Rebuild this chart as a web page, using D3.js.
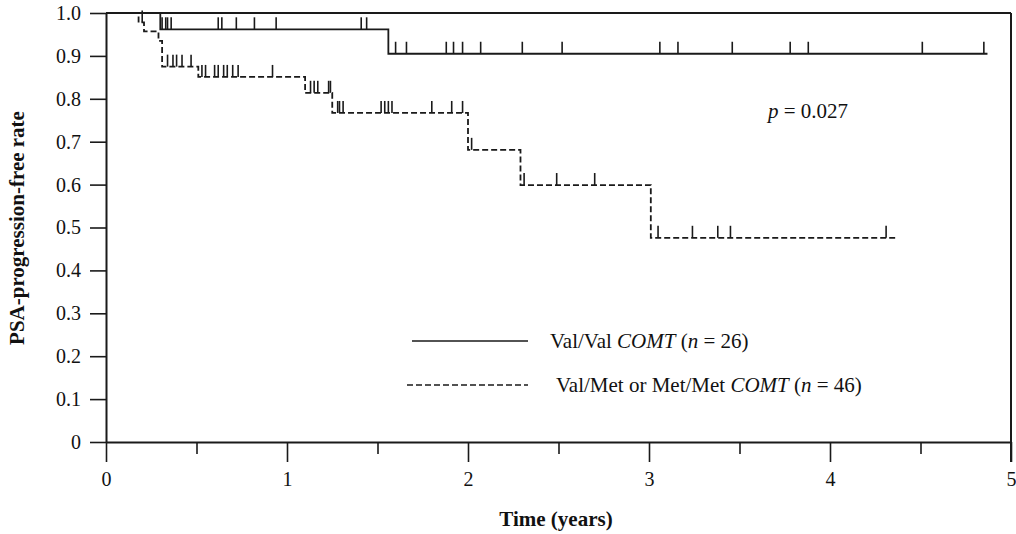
<!DOCTYPE html>
<head>
    <title>PSA-progression-free rate</title>
    <style>
        body{ margin: 0; background: white; }
        svg{ display: block; }
        text{ font-family: "Liberation Serif", "Times New Roman", serif; fill: #111; }
    </style>
    <script src="https://d3js.org/d3.v7.min.js"></script>
</head>
<body>
    <svg width="1016" height="534"></svg>

    <script>
        // Val/Val COMT (solid): event times and survival after each event
        var solidEventTimes = [0.30, 1.56];
        var solidSurvival = [0.962, 0.905];
        var solidEnd = 4.87;
        var solidCensored = [0.31, 0.33, 0.34, 0.36, 0.62, 0.64, 0.72, 0.82, 0.94, 1.41, 1.44,
            1.60, 1.66, 1.88, 1.92, 1.97, 2.07, 2.30, 2.52, 3.06, 3.16, 3.46, 3.78, 3.88, 4.51, 4.85];

        // Val/Met or Met/Met COMT (dashed)
        var dashEventTimes = [0.18, 0.21, 0.29, 0.31, 0.51, 1.10, 1.25, 2.00, 2.29, 3.01];
        var dashSurvival = [0.978, 0.957, 0.935, 0.875, 0.851, 0.814, 0.767, 0.681, 0.599, 0.476];
        var dashEnd = 4.36;
        var dashCensored = [0.20, 0.34, 0.37, 0.39, 0.42, 0.47,
            0.53, 0.55, 0.60, 0.62, 0.65, 0.67, 0.70, 0.73, 0.92,
            1.13, 1.15, 1.17, 1.23, 1.24,
            1.28, 1.29, 1.31, 1.52, 1.54, 1.56, 1.58, 1.80, 1.91, 1.97,
            2.02, 2.31, 2.49, 2.70, 3.05, 3.24, 3.38, 3.45, 4.31];

        var xTicks = [0, 1, 2, 3, 4, 5];
        var xMinorTicks = [0.5, 1.5, 2.5, 3.5, 4.5];
        var yTicks = [0, 0.1, 0.2, 0.3, 0.4, 0.5, 0.6, 0.7, 0.8, 0.9, 1.0];

        var legendLabels = [
            {pre: "Val/Val ", gene: "COMT", n: "26"},
            {pre: "Val/Met or Met/Met ", gene: "COMT", n: "46"}
        ];
        var pValue = "0.027";

        var svg = d3.select("svg");
        var x = d3.scaleLinear().domain([0, 5]).range([106, 1011]);
        var y = d3.scaleLinear().domain([0, 1]).range([442, 13]);
        var ink = "#1a1a1a";

        // frame (top and right)
        svg.append("line")
            .attr("x1", x(0)).attr("x2", x(5))
            .attr("y1", y(1)).attr("y2", y(1))
            .attr("stroke", ink).attr("stroke-width", 2);
        svg.append("line")
            .attr("x1", x(5)).attr("x2", x(5))
            .attr("y1", y(1)).attr("y2", y(0) + 20)
            .attr("stroke", ink).attr("stroke-width", 2);

        // axes
        var yAxis = svg.append("g")
            .attr("transform", "translate(" + x(0) + ",0)")
            .call(d3.axisLeft(y).tickValues(yTicks).tickSize(16).tickSizeOuter(0).tickPadding(9)
                .tickFormat(function(d){ return d === 0 ? "0" : d3.format(".1f")(d); }));
        var xAxis = svg.append("g")
            .attr("transform", "translate(0," + y(0) + ")")
            .call(d3.axisBottom(x).tickValues(xTicks).tickSize(20).tickSizeOuter(0).tickPadding(10)
                .tickFormat(d3.format("d")));
        svg.append("g")
            .attr("transform", "translate(0," + y(0) + ")")
            .call(d3.axisBottom(x).tickValues(xMinorTicks).tickSize(12).tickFormat(""))
            .select(".domain").remove();

        svg.selectAll(".domain").attr("stroke", ink).attr("stroke-width", 2);
        svg.selectAll(".tick line").attr("stroke", ink).attr("stroke-width", 1.6);
        yAxis.selectAll("text").style("font-size", "20px").attr("fill", ink);
        xAxis.selectAll("text").style("font-size", "20px").attr("fill", ink);

        // step lines
        function stepPoints(times, surv, end){
            var pts = [[0, 1]];
            for(let i=0;i<times.length;i++){ pts.push([times[i], surv[i]]); }
            pts.push([end, surv[surv.length-1]]);
            return pts;
        }
        function survAt(times, surv, t){
            var s = 1;
            for(let i=0;i<times.length;i++){ if(times[i] <= t) s = surv[i]; }
            return s;
        }
        var line = d3.line()
            .x(function(d){ return x(d[0]); })
            .y(function(d){ return y(d[1]); })
            .curve(d3.curveStepAfter);

        svg.append("path")
            .attr("d", line(stepPoints(solidEventTimes, solidSurvival, solidEnd)))
            .attr("fill", "none")
            .attr("stroke", ink)
            .attr("stroke-width", 1.8);
        svg.append("path")
            .attr("d", line(stepPoints(dashEventTimes, dashSurvival, dashEnd)))
            .attr("fill", "none")
            .attr("stroke", ink)
            .attr("stroke-width", 1.8)
            .attr("stroke-dasharray", "6,3");

        // censor marks
        svg.selectAll(".cs").data(solidCensored).enter().append("line")
            .attr("x1", function(d){ return x(d); }).attr("x2", function(d){ return x(d); })
            .attr("y1", function(d){ return y(survAt(solidEventTimes, solidSurvival, d)); })
            .attr("y2", function(d){ return y(survAt(solidEventTimes, solidSurvival, d)) - 12; })
            .attr("stroke", ink).attr("stroke-width", 1.6);
        svg.selectAll(".cd").data(dashCensored).enter().append("line")
            .attr("x1", function(d){ return x(d); }).attr("x2", function(d){ return x(d); })
            .attr("y1", function(d){ return y(survAt(dashEventTimes, dashSurvival, d)); })
            .attr("y2", function(d){ return y(survAt(dashEventTimes, dashSurvival, d)) - 12; })
            .attr("stroke", ink).attr("stroke-width", 1.6);

        // p value
        var pt = svg.append("text").attr("x", 768).attr("y", 118).style("font-size", "21px");
        pt.append("tspan").style("font-style", "italic").text("p");
        pt.append("tspan").text(" = " + pValue);

        // legend
        var legendRows = [
            {x1: 412, x2: 528, y: 341, tx: 550, dash: null},
            {x1: 407, x2: 528, y: 385, tx: 556, dash: "6,3"}
        ];
        legendRows.forEach(function(r, i){
            svg.append("line")
                .attr("x1", r.x1).attr("x2", r.x2).attr("y1", r.y).attr("y2", r.y)
                .attr("stroke", ink).attr("stroke-width", 1.6)
                .attr("stroke-dasharray", r.dash);
            var t = svg.append("text").attr("x", r.tx).attr("y", r.y + 7).style("font-size", "21px");
            t.append("tspan").text(legendLabels[i].pre);
            t.append("tspan").style("font-style", "italic").text(legendLabels[i].gene);
            t.append("tspan").text(" (");
            t.append("tspan").style("font-style", "italic").text("n");
            t.append("tspan").text(" = " + legendLabels[i].n + ")");
        });

        // axis titles
        svg.append("text")
            .attr("x", 556).attr("y", 526)
            .attr("text-anchor", "middle")
            .style("font-size", "21px").style("font-weight", "bold")
            .text("Time (years)");
        svg.append("text")
            .attr("transform", "translate(24,228) rotate(-90)")
            .attr("text-anchor", "middle")
            .style("font-size", "21px").style("font-weight", "bold")
            .text("PSA-progression-free rate");
    </script>
</body>
</html>
